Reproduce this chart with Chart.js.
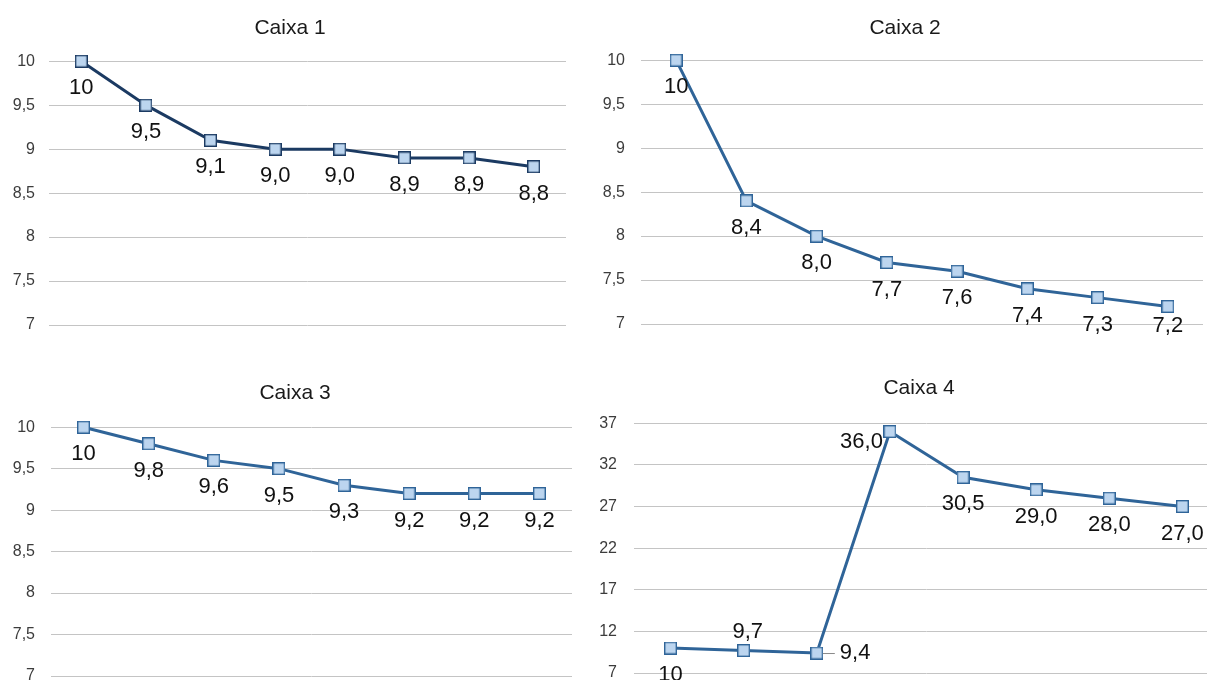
<!DOCTYPE html>
<html>
<head>
<meta charset="utf-8">
<script src="https://cdn.jsdelivr.net/npm/chart.js@4.4.1/dist/chart.umd.min.js"></script>
<style>
  html, body { margin: 0; padding: 0; background: #fff; overflow: hidden; width: 1207px; height: 680px; }
  .panel { position: absolute; }
</style>
</head>
<body>
<div class="panel" style="left:0px;top:0px"><canvas id="c1" width="600" height="350"></canvas></div>
<div class="panel" style="left:600px;top:0px"><canvas id="c2" width="613" height="350"></canvas></div>
<div class="panel" style="left:0px;top:350px"><canvas id="c3" width="600" height="352"></canvas></div>
<div class="panel" style="left:600px;top:350px"><canvas id="c4" width="629" height="350"></canvas></div>
<script>
// pontos de medição (eixo x sem rótulos)
const medicoes = ['1', '2', '3', '4', '5', '6', '7', '8'];

const caixa1 = [10, 9.5, 9.1, 9.0, 9.0, 8.9, 8.9, 8.8];
const caixa2 = [10, 8.4, 8.0, 7.7, 7.6, 7.4, 7.3, 7.2];
const caixa3 = [10, 9.8, 9.6, 9.5, 9.3, 9.2, 9.2, 9.2];
const caixa4 = [10, 9.7, 9.4, 36.0, 30.5, 29.0, 28.0, 27.0];

// marcas do eixo y
const ticksCaixa = [7, 7.5, 8, 8.5, 9, 9.5, 10];
const ticksCaixa4 = [7, 12, 17, 22, 27, 32, 37];

const FONT = '"Liberation Sans", Arial, sans-serif';
const NAVY = '#1b3a62';
const BLUE = '#2f6498';

// quadrado azul claro usado como marcador
function squareMarker(stroke) {
  const c = document.createElement('canvas');
  c.width = 13; c.height = 13;
  const g = c.getContext('2d');
  g.fillStyle = '#bcd5ef';
  g.fillRect(0, 0, 13, 13);
  g.strokeStyle = stroke;
  g.lineWidth = 1.4;
  g.strokeRect(0.7, 0.7, 11.6, 11.6);
  return c;
}

// rótulos de valor desenhados ao lado de cada ponto
const valueLabels = {
  id: 'valueLabels',
  afterDatasetsDraw(chart, args, opts) {
    const ctx = chart.ctx;
    const meta = chart.getDatasetMeta(0);
    const values = chart.data.datasets[0].data;
    ctx.save();
    ctx.font = '22px ' + FONT;
    ctx.fillStyle = '#111';
    ctx.textBaseline = 'middle';
    meta.data.forEach((pt, i) => {
      const v = values[i];
      const text = i === 0 ? String(v) : v.toFixed(1).replace('.', ',');
      const pos = (opts.positions && opts.positions[i]) || 'below';
      let x = pt.x, y = pt.y, align = 'center';
      if (pos === 'below') {
        y += 27;
        if (opts.maxY) y = Math.min(y, opts.maxY);
      } else if (pos === 'above') {
        x += 4; y -= 19;
      } else if (pos === 'left') {
        x -= 7; y += 10; align = 'right';
      } else if (pos === 'right') {
        ctx.strokeStyle = '#8a8a8a';
        ctx.lineWidth = 1;
        ctx.beginPath();
        ctx.moveTo(x + 6, y + 0.5);
        ctx.lineTo(x + 18, y + 0.5);
        ctx.stroke();
        x += 23; align = 'left';
      }
      ctx.textAlign = align;
      ctx.fillText(text, x, y);
    });
    ctx.restore();
  }
};

// centra o título num x escolhido em vez do centro do canvas
const titlePlacement = {
  id: 'titlePlacement',
  afterLayout(chart, args, opts) {
    const t = chart.titleBlock;
    if (!t || opts.x === undefined) return;
    const half = (t.right - t.left) / 2;
    t.left = opts.x - half;
    t.right = opts.x + half;
  }
};

function makeChart(id, cfg) {
  const ctx = document.getElementById(id).getContext('2d');
  return new Chart(ctx, {
    type: 'line',
    data: {
      labels: medicoes,
      datasets: [{
        data: cfg.values,
        borderColor: cfg.color,
        borderWidth: 3,
        pointStyle: squareMarker(cfg.color),
        pointRadius: 7,
        tension: 0,
        clip: false,
        fill: false
      }]
    },
    options: {
      responsive: false,
      animation: false,
      layout: { padding: cfg.padding },
      scales: {
        x: { display: false, offset: true, ticks: { display: false } },
        y: {
          min: cfg.ticks[0],
          max: cfg.ticks[cfg.ticks.length - 1],
          afterBuildTicks: s => { s.ticks = cfg.ticks.map(v => ({ value: v })); },
          afterFit: s => { s.width = cfg.axisWidth; },
          border: { display: false },
          grid: { color: '#c4c4c4', lineWidth: 1, drawTicks: false },
          ticks: {
            padding: cfg.tickPad,
            color: '#3c3c3c',
            font: { family: FONT, size: 16 },
            callback: v => String(v).replace('.', ',')
          }
        }
      },
      plugins: {
        legend: { display: false },
        tooltip: { enabled: false },
        title: {
          display: true,
          text: cfg.title,
          color: '#1a1a1a',
          font: { family: FONT, size: 21, weight: 'normal' },
          padding: cfg.titlePad
        },
        titlePlacement: { x: cfg.titleX },
        valueLabels: { positions: cfg.positions, maxY: cfg.maxY }
      }
    },
    plugins: [titlePlacement, valueLabels]
  });
}

makeChart('c1', {
  title: 'Caixa 1', titleX: 290, values: caixa1, ticks: ticksCaixa, color: NAVY,
  padding: { left: 0, right: 34, top: 0, bottom: 25 },
  axisWidth: 49, tickPad: 14,
  titlePad: { top: 16, bottom: 20 }
});

makeChart('c2', {
  title: 'Caixa 2', titleX: 305, values: caixa2, ticks: ticksCaixa, color: BLUE,
  padding: { left: 0, right: 0, top: 0, bottom: 26 },
  axisWidth: 41, tickPad: 16,
  titlePad: { top: 16, bottom: 19 }, maxY: 326
});

makeChart('c3', {
  title: 'Caixa 3', titleX: 295, values: caixa3, ticks: ticksCaixa, color: BLUE,
  padding: { left: 0, right: 28, top: 0, bottom: 26 },
  axisWidth: 51, tickPad: 16,
  titlePad: { top: 31, bottom: 21 }
});

makeChart('c4', {
  title: 'Caixa 4', titleX: 319, values: caixa4, ticks: ticksCaixa4, color: BLUE,
  padding: { left: 0, right: 0, top: 0, bottom: 27 },
  axisWidth: 34, tickPad: 17,
  titlePad: { top: 26, bottom: 22 },
  positions: ['below', 'above', 'right', 'left', 'below', 'below', 'below', 'below']
});
</script>
</body>
</html>
